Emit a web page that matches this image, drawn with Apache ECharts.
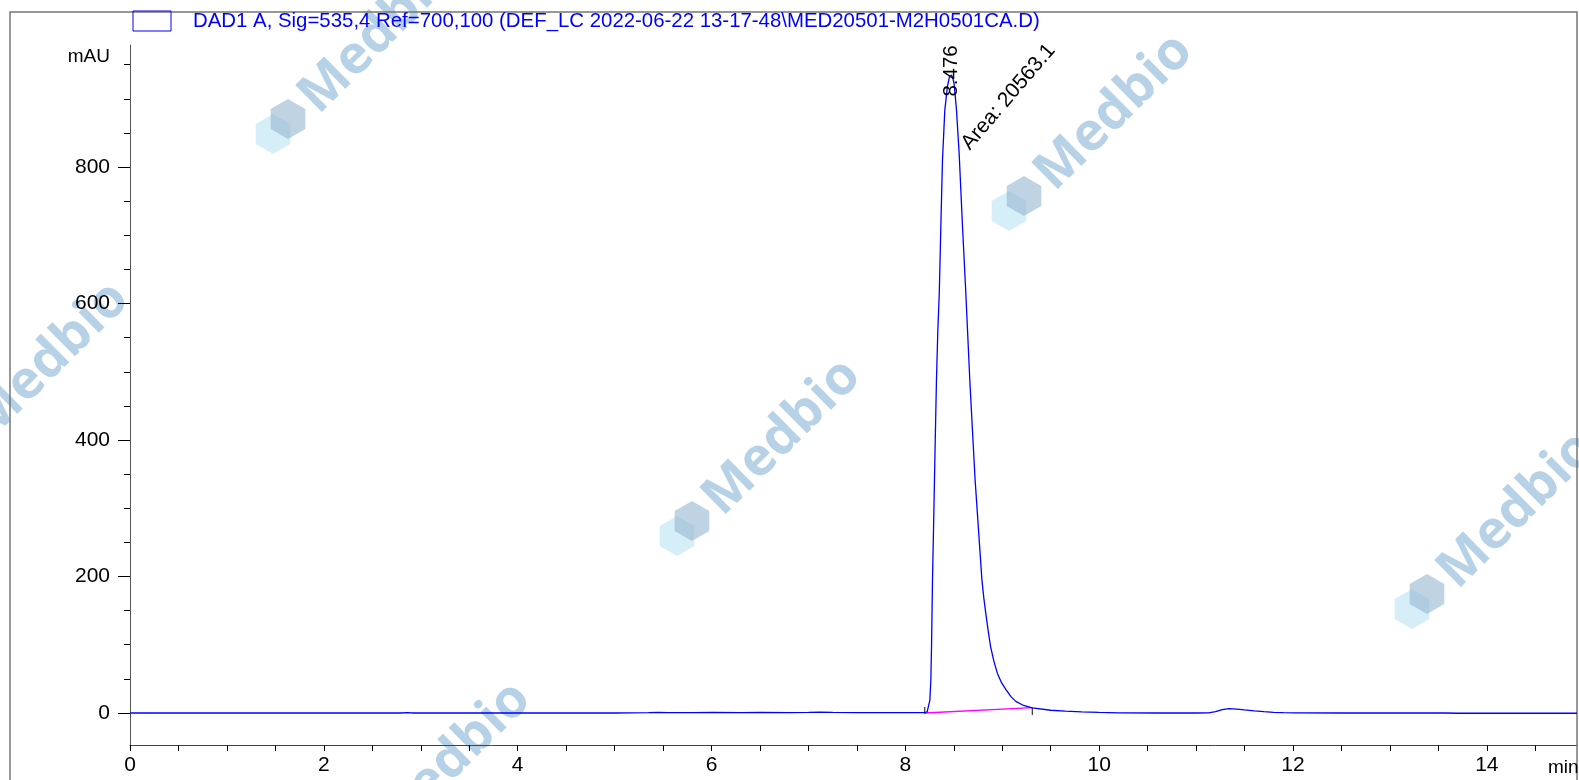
<!DOCTYPE html>
<html>
<head>
<meta charset="utf-8">
<script src="https://cdn.jsdelivr.net/npm/echarts@6/dist/echarts.min.js"></script>
<style>
html,body{margin:0;padding:0;background:#fff;}
#chart{width:1579px;height:780px;}
</style>
</head>
<body>
<div id="chart"></div>
<script>
// ---- data ----
const times = [0, 0.5, 1, 1.5, 2, 2.5, 2.8, 2.86, 2.92, 3.5, 4, 4.5, 5, 5.35, 5.45, 5.55, 5.8, 6, 6.3, 6.5, 6.8, 7.0, 7.12, 7.25, 7.5, 7.8, 8.0, 8.1, 8.2, 8.21, 8.225, 8.24, 8.253, 8.263, 8.27, 8.28, 8.294, 8.307, 8.321, 8.335, 8.35, 8.366, 8.383, 8.407, 8.434, 8.455, 8.476, 8.49, 8.503, 8.528, 8.555, 8.59, 8.624, 8.665, 8.692, 8.72, 8.755, 8.79, 8.81, 8.83, 8.855, 8.88, 8.915, 8.95, 8.99, 9.04, 9.09, 9.14, 9.22, 9.31, 9.5, 9.65, 9.82, 10.0, 10.2, 10.6, 11.0, 11.13, 11.2, 11.27, 11.34, 11.42, 11.5, 11.6, 11.7, 11.8, 11.9, 12.0, 12.5, 13.0, 13.57, 13.7, 14.2, 14.93];
const signal = [0, 0, 0, 0, 0, 0, 0, 0.6, 0, 0, 0, 0, 0, 0.4, 0.8, 0.4, 0.6, 1.0, 0.5, 0.8, 0.6, 0.8, 1.4, 0.8, 0.5, 0.6, 0.5, 0.5, 0.4, 0.5, 1.5, 4, 19, 48, 97, 195, 293, 390, 488, 560, 615, 712, 810, 883, 918, 932, 935, 930, 922, 883, 820, 712, 615, 488, 415, 341, 268, 195, 168, 146, 120, 97, 75, 58, 45, 34, 24, 17, 11, 7.4, 4, 2.6, 1.5, 0.8, 0.3, 0, 0, 0.3, 2.0, 4.8, 6.4, 5.8, 4.6, 3.2, 2.0, 1.0, 0.4, 0.2, 0, 0, 0, -0.4, -0.4, -0.4];
const baselineTimes = [8.20, 9.31];
const baselineValues = [0, 8];
const startTick = [[8.20, -1.5], [8.20, 8.8]];
const endTick = [[9.31, -3], [9.31, 8.4]];
const xLabelValues = [0, 2, 4, 6, 8, 10, 12, 14];
const xTickValues = [0, 0.5, 1, 1.5, 2, 2.5, 3, 3.5, 4, 4.5, 5, 5.5, 6, 6.5, 7, 7.5, 8, 8.5, 9, 9.5, 10, 10.5, 11, 11.5, 12, 12.5, 13, 13.5, 14, 14.5];
const yLabelValues = [0, 200, 400, 600, 800];
const yMinorTickValues = [50, 100, 150, 250, 300, 350, 450, 500, 550, 650, 700, 750, 850, 900, 950];
const peakTime = 8.476;
const peakHeight = 935;
const peakLabel = '8.476';
const areaLabel = 'Area: 20563.1';
const legendText = 'DAD1 A, Sig=535,4 Ref=700,100 (DEF_LC 2022-06-22 13-17-48\\MED20501-M2H0501CA.D)';
const yUnit = 'mAU';
const xUnit = 'min';
const watermarkText = 'Medbio';

// ---- chart ----
const FONT = 'Liberation Sans, Arial, sans-serif';
const chart = echarts.init(document.getElementById('chart'), null, {renderer: 'canvas'});
const traceData = times.map((t, i) => [t, signal[i]]);
const baseData = baselineTimes.map((t, i) => [t, baselineValues[i]]);

const yMin = -46.9, yMax = 978.8;

// watermark graphics (decoration)
const wmCenters = [[378, 35], [1114, 112], [782, 437], [1517, 510], [50, 360], [452, 760]];
function hexPoints(cx, cy, r) {
  const pts = [];
  for (let k = 0; k < 6; k++) {
    const a = Math.PI / 6 + k * Math.PI / 3;
    pts.push([cx + r * Math.cos(a), cy + r * Math.sin(a)]);
  }
  return pts;
}
const wmGraphics = [];
wmCenters.forEach(c => {
  wmGraphics.push({
    type: 'text', x: c[0], y: c[1], rotation: 0.78, z: -10,
    style: {text: watermarkText, fontSize: 53, fontWeight: 'bold', fontFamily: 'Open Sans, sans-serif',
            fill: 'rgba(165,198,224,0.8)', align: 'center', verticalAlign: 'middle'}
  });
  const lx = c[0] - 95, ly = c[1] + 90;
  wmGraphics.push({type: 'polygon', z: -11, shape: {points: hexPoints(lx - 10, ly + 9, 20)},
    style: {fill: 'rgba(200,232,246,0.75)'}});
  wmGraphics.push({type: 'polygon', z: -10, shape: {points: hexPoints(lx + 5, ly - 6, 20)},
    style: {fill: 'rgba(150,182,208,0.6)'}});
});

const option = {
  animation: false,
  backgroundColor: '#fff',
  grid: {left: 130, right: 2, top: 45, bottom: 35, containLabel: false},
  xAxis: {
    type: 'value', min: 0, max: 14.93,
    axisLine: {show: true, onZero: false, lineStyle: {color: '#444', width: 1}},
    axisTick: {show: true, customValues: xTickValues, length: 6, lineStyle: {color: '#000', width: 1}},
    axisLabel: {customValues: xLabelValues, fontSize: 21, color: '#000', margin: 10, fontFamily: FONT},
    splitLine: {show: false}
  },
  yAxis: [{
    type: 'value', min: yMin, max: yMax, position: 'left',
    axisLine: {show: true, lineStyle: {color: '#555', width: 1}},
    axisTick: {show: true, customValues: yLabelValues, length: 12, lineStyle: {color: '#000', width: 1}},
    axisLabel: {customValues: yLabelValues, fontSize: 21, color: '#000', margin: 20, fontFamily: FONT},
    splitLine: {show: false}
  }, {
    type: 'value', min: yMin, max: yMax, position: 'left', offset: 0,
    axisLine: {show: false},
    axisTick: {show: true, customValues: yMinorTickValues, length: 6, lineStyle: {color: '#000', width: 1}},
    axisLabel: {show: false},
    splitLine: {show: false}
  }],
  series: [{
    type: 'line', data: traceData, showSymbol: false, symbol: 'none', smooth: false, z: 5,
    lineStyle: {color: '#0000ff', width: 1.3}
  }, {
    type: 'line', data: baseData, showSymbol: false, symbol: 'none', z: 4,
    lineStyle: {color: '#ff00ff', width: 1.3}
  }, {
    type: 'line', data: startTick, showSymbol: false, symbol: 'none', z: 3,
    lineStyle: {color: '#333', width: 1.2}
  }, {
    type: 'line', data: endTick, showSymbol: false, symbol: 'none', z: 3,
    lineStyle: {color: '#333', width: 1.2}
  }]
};
chart.setOption(option);

const apex = chart.convertToPixel({xAxisIndex: 0, yAxisIndex: 0}, [peakTime, peakHeight]);
const graphics = wmGraphics.concat([
  {type: 'rect', z: 1, shape: {x: 10, y: 12, width: 1567, height: 800},
   style: {fill: 'none', stroke: '#777', lineWidth: 1.5}},
  {type: 'rect', z: 1, shape: {x: 133, y: 11, width: 38, height: 20},
   style: {fill: 'none', stroke: '#0000ff', lineWidth: 1}},
  {type: 'text', z: 1, x: 193, y: 21,
   style: {text: legendText, fontSize: 20.4, fontFamily: FONT, fill: '#0000ff', align: 'left', verticalAlign: 'middle'}},
  {type: 'text', z: 1, x: 110, y: 57,
   style: {text: yUnit, fontSize: 19, fontFamily: FONT, fill: '#000', align: 'right', verticalAlign: 'middle'}},
  {type: 'text', z: 1, x: 1548, y: 768,
   style: {text: xUnit, fontSize: 19, fontFamily: FONT, fill: '#000', align: 'left', verticalAlign: 'middle'}},
  {type: 'text', z: 20, x: apex[0], y: apex[1] - 4, rotation: Math.PI / 2,
   style: {text: peakLabel, fontSize: 20.5, fontFamily: FONT, fill: '#000', align: 'center', verticalAlign: 'middle'}},
  {type: 'text', z: 20, x: apex[0] + 57, y: apex[1] + 22, rotation: 0.86,
   style: {text: areaLabel, fontSize: 21, fontFamily: FONT, fill: '#000', align: 'center', verticalAlign: 'middle'}}
]);
chart.setOption({graphic: graphics});
</script>
</body>
</html>
